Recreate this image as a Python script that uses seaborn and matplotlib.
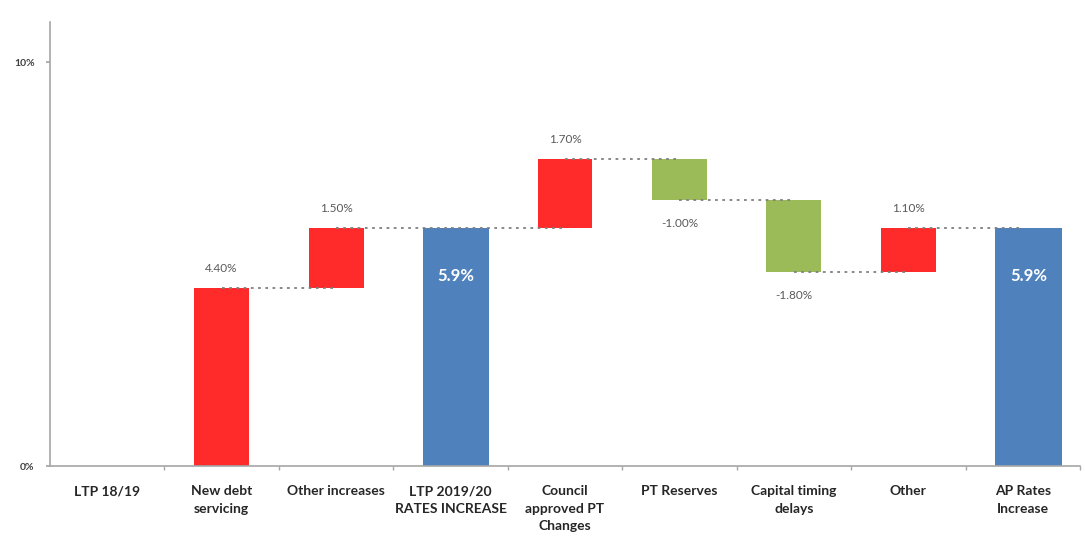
import numpy as np
import pandas as pd
import seaborn as sns
import matplotlib.pyplot as plt
from matplotlib.ticker import FixedLocator

# Datos del gráfico de cascada
categorias = ["LTP 18/19", "New debt\nservicing", "Other increases",
              "LTP 2019/20\nRATES INCREASE", "Council\napproved PT\nChanges",
              "PT Reserves", "Capital timing\ndelays", "Other", "AP Rates\nIncrease"]
cambios = [0.0, 4.40, 1.50, 0.0, 1.70, -1.00, -1.80, 1.10, 0.0]
tipos = ["start", "up", "up", "total", "up", "down", "down", "up", "total"]
etiquetas = ["", "4.40%", "1.50%", "5.9%", "1.70%", "-1.00%", "-1.80%", "1.10%", "5.9%"]

colores = {"start": "#FFFFFF", "up": "#FF2B2B", "down": "#9BBB59", "total": "#4F81BD"}

# Calcular base y altura de cada barra
nivel = 0.0
bases, alturas, niveles = [], [], []
for c, t in zip(cambios, tipos):
    if t == "total":
        bases.append(0.0)
        alturas.append(nivel)
    else:
        bases.append(min(nivel, nivel + c))
        alturas.append(abs(c))
        nivel += c
    niveles.append(nivel)

df = pd.DataFrame({"categoria": categorias, "altura": alturas, "base": bases})

sns.set_theme(style="white")
plt.rcParams["font.family"] = ["Lato", "DejaVu Sans"]

fig = plt.figure(figsize=(10.85, 5.54), dpi=100)
ax = fig.add_axes([50 / 1085, 88 / 554, 1030 / 1085, 444 / 554])

sns.barplot(data=df, x="categoria", y="altura", bottom=df["base"].values,
            width=0.48, color="#FF2B2B", ax=ax, zorder=2)

# Colores y anchos por tipo
for i, (p, t) in enumerate(zip(ax.patches, tipos)):
    p.set_facecolor(colores[t])
    p.set_edgecolor("none")
    if t == "total":
        p.set_width(0.58)
        p.set_x(i - 0.29 + 0.05)

# Líneas conectoras punteadas
for i in range(1, len(categorias) - 1):
    ax.plot([i, i + 1], [niveles[i], niveles[i]], linestyle=(0, (1.5, 2.5)),
            color="#7F7F7F", linewidth=1.3, zorder=3)

# Etiquetas de valores
for i, (t, lab) in enumerate(zip(tipos, etiquetas)):
    if t == "up":
        ax.annotate(lab, (i, bases[i] + alturas[i]), xytext=(0, 14),
                    textcoords="offset points", ha="center", va="center",
                    fontsize=8.5, color="#595959")
    elif t == "down":
        ax.annotate(lab, (i, bases[i]), xytext=(0, -17),
                    textcoords="offset points", ha="center", va="center",
                    fontsize=8.5, color="#595959")
    elif t == "total":
        ax.text(i + 0.05, 4.7, lab, ha="center", va="center", fontsize=12,
                fontweight="bold", color="white", zorder=4)

# Ejes
ax.set_xlim(-0.5, len(categorias) - 0.5)
ax.set_ylim(0, 11)
ax.set_yticks([0, 10])
ax.set_yticklabels(["0%", "10%"], fontsize=7.5, fontweight="bold", color="#404040")
ax.set_xticks(range(len(categorias)))
ax.set_xticklabels(categorias, fontsize=10, fontweight="bold", color="#262626",
                   linespacing=1.55, va="top")
ax.xaxis.set_minor_locator(FixedLocator(np.arange(0.5, len(categorias), 1.0)))
ax.tick_params(axis="x", which="major", length=0, pad=14)
ax.tick_params(axis="x", which="minor", length=3, color="#A6A6A6", bottom=True)
ax.tick_params(axis="y", length=3, color="#A6A6A6", pad=8, left=True)
ax.set_xlabel("")
ax.set_ylabel("")
sns.despine(ax=ax)
for s in ["left", "bottom"]:
    ax.spines[s].set_color("#A6A6A6")
    ax.spines[s].set_linewidth(1.2)

fig.savefig("out.png", dpi=100)
